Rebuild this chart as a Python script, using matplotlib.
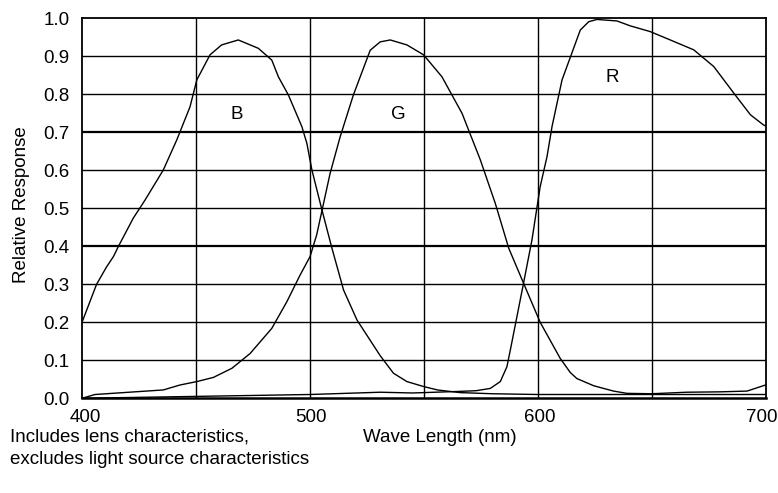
import matplotlib
matplotlib.use("Agg")
import matplotlib.pyplot as plt
from matplotlib.transforms import ScaledTranslation

plt.rcParams['font.family'] = ['Liberation Sans', 'DejaVu Sans']

# Blue channel
B_x = [400, 406.4, 410.8, 413.8, 416, 422.5, 427.7, 435.7, 441.6, 447.4, 450.4, 456.2, 461.3, 468.6,
       477.4, 483.3, 486.2, 490.6, 496.5, 498.7, 500.9, 505.3, 509.7, 514.8, 520.7, 530.9, 536.7,
       542.6, 549.9, 556, 560.2, 566, 580, 600, 620, 640, 660, 680, 700]
B_y = [0.2, 0.30, 0.346, 0.373, 0.40, 0.474, 0.522, 0.601, 0.680, 0.767, 0.838, 0.904, 0.930, 0.943,
       0.921, 0.890, 0.846, 0.798, 0.715, 0.671, 0.601, 0.496, 0.395, 0.285, 0.206, 0.112, 0.066,
       0.044, 0.031, 0.022, 0.019, 0.015, 0.012, 0.010, 0.010, 0.010, 0.010, 0.010, 0.010]

# Green channel
G_x = [400, 405.7, 435.7, 443, 450.4, 457.7, 465.8, 473.8, 483.3, 489.9, 495.7, 500.1, 503, 508.9,
       513.3, 519.1, 526.5, 530.9, 535.3, 542.6, 549.9, 558, 566.8, 574.8, 581.4, 587.3, 593.8,
       601.1, 609.9, 614.3, 617.2, 624.6, 633.3, 639.2, 650, 665.5, 680.2, 691.9, 700]
G_y = [0.0, 0.010, 0.022, 0.035, 0.044, 0.055, 0.079, 0.118, 0.184, 0.254, 0.324, 0.373, 0.43, 0.592,
       0.688, 0.798, 0.916, 0.938, 0.943, 0.930, 0.904, 0.846, 0.75, 0.628, 0.513, 0.395, 0.303,
       0.2, 0.105, 0.068, 0.052, 0.033, 0.019, 0.013, 0.012, 0.016, 0.017, 0.019, 0.035]

# Red channel
R_x = [400, 450, 500, 531, 545, 555, 565, 573, 579.2, 583.6, 586.5, 588, 590.9, 593.8, 597.5,
       601.1, 604.1, 606.3, 610.7, 615.1, 618.7, 622.4, 626, 634.8, 640.7, 649.4, 658.2, 668.5,
       677.3, 686.1, 693.4, 699.2, 700]
R_y = [0.0, 0.005, 0.010, 0.016, 0.014, 0.016, 0.018, 0.020, 0.026, 0.044, 0.083, 0.127, 0.215,
       0.303, 0.417, 0.557, 0.636, 0.715, 0.838, 0.910, 0.969, 0.991, 0.997, 0.993, 0.980, 0.965,
       0.943, 0.917, 0.873, 0.803, 0.746, 0.719, 0.717]

x_ticks = [400, 500, 600, 700]
y_ticks = [0.0, 0.1, 0.2, 0.3, 0.4, 0.5, 0.6, 0.7, 0.8, 0.9, 1.0]
v_grid = [450, 500, 550, 600, 650]
thick_h = [0.4, 0.7]

labels = [("B", 468, 0.746), ("G", 538.8, 0.746), ("R", 632.8, 0.843)]

FS = 13.5

fig = plt.figure(figsize=(7.78, 4.93), dpi=100)
ax = fig.add_axes([82/778, 1-398.3/493, (765.5-82)/778, (398.3-18.3)/493])
ax.set_xlim(400, 700)
ax.set_ylim(0, 1.0)

for yv in y_ticks[1:-1]:
    lw = 1.6 if yv in thick_h else 1.0
    ax.axhline(yv, color='black', lw=lw, zorder=1)
for xv in v_grid:
    ax.axvline(xv, color='black', lw=1.0, zorder=1)

for xs, ys in [(B_x, B_y), (G_x, G_y), (R_x, R_y)]:
    ax.plot(xs, ys, color='black', lw=1.0, zorder=3)

for t, xv, yv in labels:
    ax.text(xv, yv, t, fontsize=FS, ha='center', va='center', zorder=4)

ax.set_xticks(x_ticks)
ax.set_xticklabels([str(v) for v in x_ticks], fontsize=FS)
ax.set_yticks(y_ticks)
ax.set_yticklabels([f"{v:.1f}" for v in y_ticks], fontsize=FS)
ax.tick_params(axis='y', length=0, pad=9)
ax.tick_params(axis='x', length=0, pad=8)
shifts = [3.5, 1.0, 2.5, -4.0]
for lab, dx in zip(ax.get_xticklabels(), shifts):
    lab.set_transform(lab.get_transform() + ScaledTranslation(dx / 100, 0, fig.dpi_scale_trans))
for s in ax.spines.values():
    s.set_color('black')
    s.set_linewidth(1.3)
ax.spines['bottom'].set_linewidth(1.8)

fig.text(22/778, 1-205/493, "Relative Response", rotation=90, fontsize=FS, ha='center', va='center')
fig.text(440/778, 1-437/493, "Wave Length (nm)", fontsize=FS, ha='center', va='center')
fig.text(10/778, 1-437/493, "Includes lens characteristics,", fontsize=FS, ha='left', va='center')
fig.text(10/778, 1-460/493, "excludes light source characteristics", fontsize=FS, ha='left', va='center')

fig.savefig("out.png", dpi=100)
